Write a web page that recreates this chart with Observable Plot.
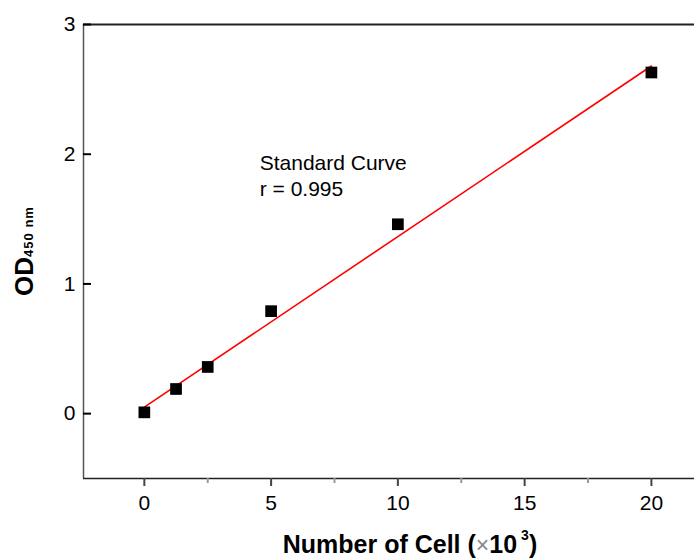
<!DOCTYPE html>
<html>
<head>
<meta charset="utf-8">
<script src="https://cdn.jsdelivr.net/npm/d3@7"></script>
<script src="https://cdn.jsdelivr.net/npm/@observablehq/plot@0.6"></script>
<style>
  body { margin: 0; background: #fff; }
  svg { display: block; }
</style>
</head>
<body>
<div id="chart"></div>
<script>
// Data
const cells = [0, 1.25, 2.5, 5, 10, 20];          // Number of cells (x10^3)
const od = [0.01, 0.19, 0.36, 0.79, 1.46, 2.63];   // OD450nm
const fitX = [0, 20];
const fitY = [0.05, 2.68];
const xTicks = [0, 5, 10, 15, 20];
const xMinorTicks = [2.5, 7.5, 12.5, 17.5];
const yTicks = [0, 1, 2, 3];
const annotation = ["Standard Curve", "r = 0.995"];

const points = cells.map((c, i) => ({x: c, y: od[i]}));
const fit = fitX.map((c, i) => ({x: c, y: fitY[i]}));

const W = 694, H = 558;
const font = "Liberation Sans, Arial, Helvetica, sans-serif";
const X0 = -2.4, X1 = 21.7, Y0 = -0.5, Y1 = 3;

const plot = Plot.plot({
  width: W,
  height: H,
  marginLeft: 83,
  marginRight: 0,
  marginTop: 24,
  marginBottom: 80,
  style: {fontFamily: font, background: "#fff", overflow: "visible"},
  x: {type: "linear", domain: [X0, X1], axis: null},
  y: {type: "linear", domain: [Y0, Y1], axis: null},
  marks: [
    // frame lines (left, top, bottom)
    Plot.ruleX([X0], {stroke: "#555", strokeWidth: 1.5}),
    Plot.ruleY([Y1], {stroke: "#222", strokeWidth: 2}),
    Plot.ruleY([Y0], {stroke: "#222", strokeWidth: 1.5}),
    // x ticks (outward)
    Plot.ruleX(xTicks, {x: d => d, y1: Y0, y2: Y0, insetBottom: -8, stroke: "#444", strokeWidth: 2}),
    Plot.ruleX(xMinorTicks, {x: d => d, y1: Y0, y2: Y0, insetBottom: -5, stroke: "#999", strokeWidth: 2}),
    // y ticks (inward)
    Plot.ruleY(yTicks, {y: d => d, x1: X0, x2: X0, insetRight: -8, stroke: "#000", strokeWidth: 2}),
    Plot.line(fit, {x: "x", y: "y", stroke: "#ff0000", strokeWidth: 1.6}),
    Plot.dot(points, {x: "x", y: "y", symbol: "square", r: 6.6, fill: "#000", stroke: "none"}),
    Plot.text(xTicks, {x: d => d, y: () => Y0, text: d => String(d), dy: 25, fontSize: 21, fill: "#000"}),
    Plot.text(yTicks, {x: () => X0, y: d => d, text: d => String(d), dx: -8, textAnchor: "end", fontSize: 21, fill: "#000"}),
    Plot.text([annotation[0]], {x: () => 4.55, y: () => 1.93, text: d => d, textAnchor: "start", fontSize: 21, fill: "#000"}),
    Plot.text([annotation[1]], {x: () => 4.55, y: () => 1.73, text: d => d, textAnchor: "start", fontSize: 21, fill: "#000"})
  ]
});

const svg = d3.select(plot);

// x-axis title
const xt = svg.append("text")
  .attr("x", 410).attr("y", 553)
  .attr("text-anchor", "middle")
  .attr("font-family", font).attr("font-weight", "bold").attr("font-size", 25).attr("fill", "#000");
xt.append("tspan").text("Number of Cell (");
xt.append("tspan").attr("font-weight", "normal").attr("fill", "#888").attr("font-size", 23).text("×");
xt.append("tspan").text("10");
xt.append("tspan").attr("font-size", 14).attr("dx", 4).attr("dy", -13).text("3");
xt.append("tspan").attr("dy", 13).text(")");

// y-axis title (rotated)
const yt = svg.append("text")
  .attr("transform", "translate(33,251) rotate(-90)")
  .attr("text-anchor", "middle")
  .attr("font-family", font).attr("font-weight", "bold").attr("font-size", 26).attr("fill", "#000");
yt.append("tspan").text("OD");
yt.append("tspan").attr("font-size", 13).attr("letter-spacing", 1).text("450 nm");

document.getElementById("chart").appendChild(plot);
</script>
</body>
</html>
